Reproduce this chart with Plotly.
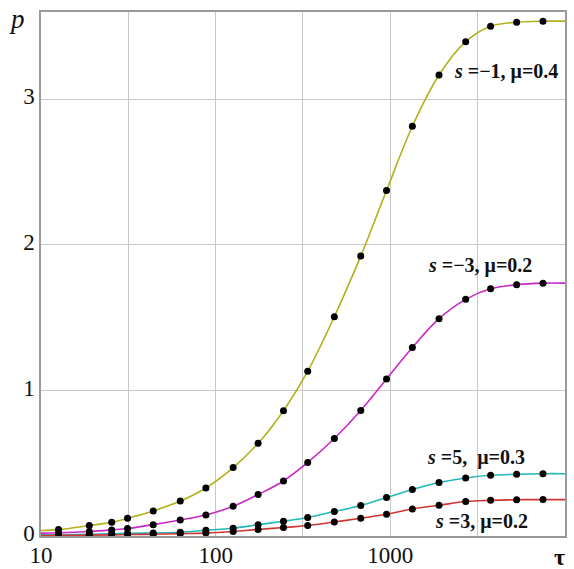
import math
import plotly.graph_objects as go

# Sampled times (tau) at which the computed points are marked
tau_pts = [12.6, 18.9, 25.4, 31.3, 43.9, 62.7, 87.9, 125.9, 175, 244.5,
           336.5, 478, 677, 951, 1337, 1900, 2700, 3750, 5285, 7480]
tau_start, tau_end = 10, 10000

# p(tau) for each parameter set
p_s_m1 = [0.044, 0.072, 0.094, 0.122, 0.172, 0.240, 0.330, 0.470, 0.637, 0.861,
          1.132, 1.507, 1.923, 2.373, 2.815, 3.167, 3.396, 3.502, 3.530, 3.537]
p_s_m3 = [0.022, 0.031, 0.042, 0.051, 0.078, 0.110, 0.144, 0.204, 0.285, 0.378,
          0.505, 0.670, 0.862, 1.079, 1.295, 1.493, 1.626, 1.698, 1.726, 1.737]
p_s_5 = [0.009, 0.012, 0.015, 0.018, 0.021, 0.026, 0.039, 0.053, 0.078, 0.101,
         0.127, 0.168, 0.209, 0.264, 0.319, 0.367, 0.399, 0.417, 0.424, 0.428]
p_s_3 = [0.004, 0.006, 0.008, 0.010, 0.012, 0.016, 0.020, 0.031, 0.045, 0.058,
         0.072, 0.096, 0.122, 0.149, 0.186, 0.211, 0.237, 0.245, 0.249, 0.250]

# Values of the curves at the ends of the tau range
start_vals = {"m1": 0.038, "m3": 0.020, "5": 0.008, "3": 0.003}
end_vals = {"m1": 3.537, "m3": 1.737, "5": 0.428, "3": 0.250}

series = [
    ("m1", p_s_m1, "#b4b01c"),
    ("m3", p_s_m3, "#c828c8"),
    ("5", p_s_5, "#20b8b8"),
    ("3", p_s_3, "#d03434"),
]

labels = [
    ("<b><i>s</i> =−1, μ=0.4</b>", 4570, 3.19),
    ("<b><i>s</i> =−3, μ=0.2</b>", 3240, 1.86),
    ("<b><i>s</i> =5,  μ=0.3</b>", 3080, 0.54),
    ("<b><i>s</i> =3, μ=0.2</b>", 3330, 0.10),
]

x_ticks = [10, 31.62, 100, 316.2, 1000, 3162]
x_ticktext = ["10", "", "100", "", "1000", ""]
y_ticks = [0, 1, 2, 3]

SERIF = "Times New Roman, Liberation Serif, serif"

fig = go.Figure()
for key, vals, color in series:
    fig.add_trace(go.Scatter(
        x=[tau_start] + tau_pts + [tau_end],
        y=[start_vals[key]] + vals + [end_vals[key]],
        mode="lines", line=dict(color=color, width=1.6, shape="spline", smoothing=1.0),
        hoverinfo="skip", showlegend=False))
for key, vals, color in series:
    fig.add_trace(go.Scatter(
        x=tau_pts, y=vals, mode="markers",
        marker=dict(color="black", size=7), showlegend=False))

for text, xv, yv in labels:
    fig.add_annotation(x=math.log10(xv), y=yv, text=text, showarrow=False,
                       font=dict(family=SERIF, size=20, color="#111"))

fig.add_annotation(xref="paper", yref="paper", x=-0.045, y=1.0, xanchor="center", yanchor="middle",
                   text="<i>p</i>", showarrow=False, yshift=-7,
                   font=dict(family=SERIF, size=27, color="#111"))
fig.add_annotation(xref="paper", yref="paper", x=1.0, y=0, xanchor="center", yanchor="middle",
                   text="<b>τ</b>", showarrow=False, yshift=-21, xshift=-6,
                   font=dict(family=SERIF, size=24, color="#111"))

axis_common = dict(showline=True, mirror=True, linecolor="#9a9a9a", linewidth=1.5,
                   gridcolor="#c8c8c8", gridwidth=1, zeroline=False, ticks="",
                   automargin=False)
fig.update_xaxes(type="log", range=[1, 4], tickvals=x_ticks, ticktext=x_ticktext,
                 ticklabelstandoff=-2,
                 tickfont=dict(family=SERIF, size=23, color="#111"), **axis_common)
fig.update_yaxes(range=[0, 3.6], tickvals=y_ticks, ticklabelshift=-3,
                 tickfont=dict(family=SERIF, size=23, color="#111"), **axis_common)

fig.update_layout(width=574, height=569, margin=dict(l=41, r=9, t=12, b=33),
                  plot_bgcolor="white", paper_bgcolor="white")

fig.write_html("out.html")
